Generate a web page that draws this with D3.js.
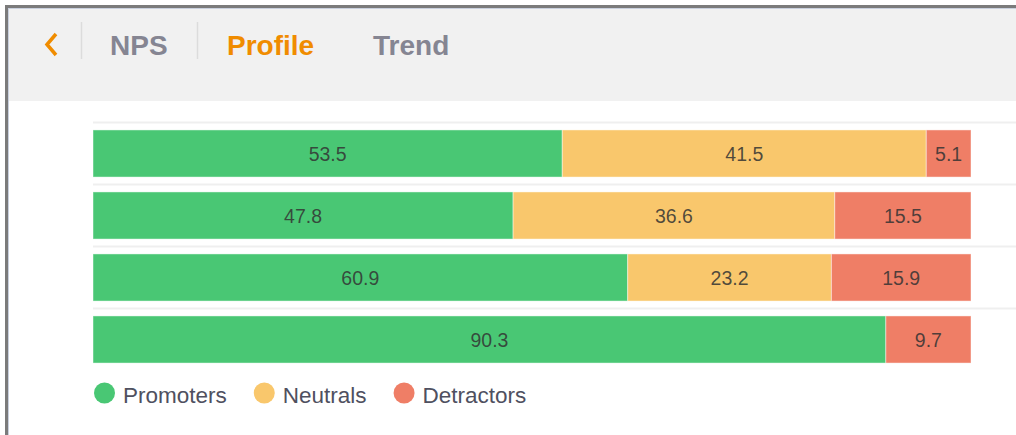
<!DOCTYPE html>
<html>
<head>
<meta charset="utf-8">
<script src="https://cdn.jsdelivr.net/npm/d3@7"></script>
<style>
  html, body { margin: 0; padding: 0; background: #fff; }
  body { font-family: "Liberation Sans", Arial, sans-serif; }
  svg { display: block; }
</style>
</head>
<body>
<div id="chart"></div>
<script>
// data
const rows = ["Row 1", "Row 2", "Row 3", "Row 4"];
const seriesNames = ["Promoters", "Neutrals", "Detractors"];
const promoters = [53.5, 47.8, 60.9, 90.3];
const neutrals = [41.5, 36.6, 23.2, 0];
const detractors = [5.1, 15.5, 15.9, 9.7];
const tabs = ["NPS", "Profile", "Trend"];

const colors = { Promoters: "#49c774", Neutrals: "#f9c76c", Detractors: "#ef7e66" };

const width = 1016, height = 435;

const table = rows.map((r, i) => ({
  row: r,
  Promoters: promoters[i],
  Neutrals: neutrals[i],
  Detractors: detractors[i]
}));

const svg = d3.select("#chart").append("svg")
  .attr("width", width)
  .attr("height", height);

// frame + header
svg.append("rect").attr("x", 0).attr("y", 0).attr("width", width).attr("height", height).attr("fill", "#fff");
svg.append("rect").attr("x", 8).attr("y", 8).attr("width", width - 8).attr("height", 93).attr("fill", "#f1f1f1");
svg.append("rect").attr("x", 5).attr("y", 5).attr("width", width - 5).attr("height", 3).attr("fill", "#7b7b7b");
svg.append("rect").attr("x", 5).attr("y", 5).attr("width", 3).attr("height", height - 5).attr("fill", "#7b7b7b");
svg.append("line").attr("x1", 8).attr("x2", width).attr("y1", 8.5).attr("y2", 8.5).attr("stroke", "#c9d0de");
svg.append("line").attr("x1", 8.5).attr("x2", 8.5).attr("y1", 8).attr("y2", height).attr("stroke", "#c9d0de");

// back chevron
svg.append("polyline")
  .attr("points", "56,34 47,44.5 56,55")
  .attr("fill", "none")
  .attr("stroke", "#f08c00")
  .attr("stroke-width", 3.5);

// dividers
[81.5, 197.5].forEach(x => {
  svg.append("line").attr("x1", x).attr("x2", x).attr("y1", 22).attr("y2", 59)
    .attr("stroke", "#dcdcdc").attr("stroke-width", 1.5);
});

const tabX = [110, 227, 373];
svg.selectAll("text.tab")
  .data(tabs)
  .join("text")
  .attr("class", "tab")
  .attr("x", (d, i) => tabX[i])
  .attr("y", 55)
  .attr("font-size", 28)
  .attr("font-weight", "bold")
  .attr("fill", d => d === "Profile" ? "#f08c00" : "#858592")
  .text(d => d);

// scales
const x = d3.scaleLinear().domain([0, 1]).range([93, 971]);
const y = d3.scaleBand().domain(rows).range([122.5, 370.5]).paddingInner(0.24).paddingOuter(0.12);

// grid lines at category boundaries
svg.selectAll("line.grid")
  .data(rows)
  .join("line")
  .attr("class", "grid")
  .attr("x1", 93)
  .attr("x2", width)
  .attr("y1", d => y(d) - y.step() * 0.12)
  .attr("y2", d => y(d) - y.step() * 0.12)
  .attr("stroke", "#efefef")
  .attr("stroke-width", 2);

const stack = d3.stack().keys(seriesNames).offset(d3.stackOffsetExpand);
const stacked = stack(table);

const groups = svg.selectAll("g.series")
  .data(stacked)
  .join("g")
  .attr("class", "series")
  .attr("fill", d => colors[d.key]);

groups.selectAll("rect")
  .data(d => d.filter(p => p[1] - p[0] > 0))
  .join("rect")
  .attr("x", d => x(d[0]))
  .attr("y", d => y(d.data.row))
  .attr("width", d => x(d[1]) - x(d[0]))
  .attr("height", y.bandwidth())
  .attr("stroke", "rgba(255,255,255,0.45)")
  .attr("stroke-width", 1);

groups.each(function (s) {
  d3.select(this).selectAll("text")
    .data(s.filter(p => p[1] - p[0] > 0))
    .join("text")
    .attr("x", d => (x(d[0]) + x(d[1])) / 2)
    .attr("y", d => y(d.data.row) + y.bandwidth() / 2)
    .attr("dy", "0.36em")
    .attr("text-anchor", "middle")
    .attr("font-size", 19.5)
    .attr("fill", "#333")
    .attr("fill-opacity", 0.85)
    .text(d => d.data[s.key].toFixed(1));
});

// legend
const legend = svg.append("g");
let lx = 94;
seriesNames.forEach(name => {
  const g = legend.append("g").attr("transform", `translate(${lx},0)`);
  g.append("circle").attr("cx", 10.5).attr("cy", 393).attr("r", 10.5).attr("fill", colors[name]);
  const t = g.append("text")
    .attr("x", 29)
    .attr("y", 403)
    .attr("font-size", 22.5)
    .attr("fill", "#4f5060")
    .text(name);
  lx += 29 + t.node().getComputedTextLength() + 27;
});
</script>
</body>
</html>
